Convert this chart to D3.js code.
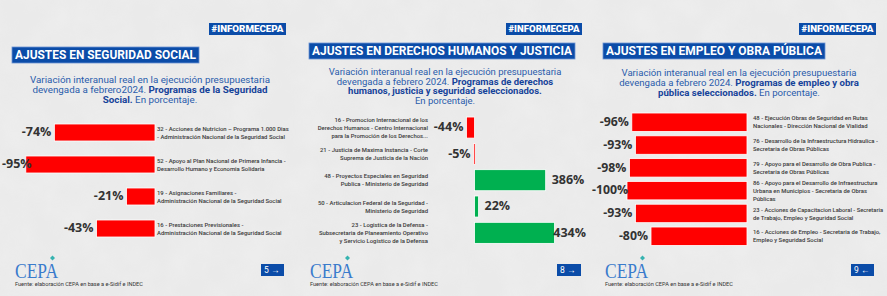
<!DOCTYPE html>
<html><head><meta charset="utf-8">
<script src="https://cdn.jsdelivr.net/npm/d3@7/dist/d3.min.js"></script>
<style>body{margin:0;background:#ececec}svg{display:block}</style>
</head><body><svg id="c" width="887" height="296"></svg>
<script>
// ---------- DATA ----------
const tagText = "#INFORMECEPA";
const sourceText = "Fuente: elaboración CEPA en base a e-Sidif e INDEC";
const titles = ["AJUSTES EN SEGURIDAD SOCIAL", "AJUSTES EN DERECHOS HUMANOS Y JUSTICIA", "AJUSTES EN EMPLEO Y OBRA PÚBLICA"];
const subtitle1 = [
  [["Variación interanual real en la ejecución presupuestaria", false]],
  [["devengada a febrero2024. ", false], ["Programas de la Seguridad", true]],
  [["Social.", true], [" En porcentaje.", false]]
];
const subtitle2 = [
  [["Variación interanual real en la ejecución presupuestaria", false]],
  [["devengada a febrero 2024. ", false], ["Programas de derechos", true]],
  [["humanos, justicia y seguridad seleccionados.", true]],
  [["En porcentaje.", false]]
];
const subtitle3 = [
  [["Variación interanual real en la ejecución presupuestaria", false]],
  [["devengada a febrero 2024. ", false], ["Programas de empleo y obra", true]],
  [["pública seleccionados.", true], [" En porcentaje.", false]]
];
const pageNumbers = ["5", "8", "9"];
const pageArrows = ["→", "→", "←"];

const categories1 = [
  ["32 - Acciones de Nutricion – Programa 1.000 Dias", "- Administración Nacional de la Seguridad Social"],
  ["52 - Apoyo al Plan Nacional de Primera Infancia -", "Desarrollo Humano y Economia Solidaria"],
  ["19 - Asignaciones Familiares -", "Administración Nacional de la Seguridad Social"],
  ["16 - Prestaciones Previsionales -", "Administración Nacional de la Seguridad Social"]
];
const values1 = [-74, -95, -21, -43];

const categories2 = [
  ["16 - Promocion Internacional de los", "Derechos Humanos - Centro Internacional", "para la Promoción de los Derechos..."],
  ["21 - Justicia de Maxima Instancia - Corte", "Suprema de Justicia de la Nación"],
  ["48 - Proyectos Especiales en Seguridad", "Publica - Ministerio de Seguridad"],
  ["50 - Articulacion Federal de la Seguridad -", "Ministerio de Seguridad"],
  ["23 - Logistica de la Defensa -", "Subsecretaria de Planeamiento Operativo", "y Servicio Logistico de la Defensa"]
];
const values2 = [-44, -5, 386, 22, 434];

const categories3 = [
  ["48 - Ejecución Obras de Seguridad en Rutas", "Nacionales - Dirección Nacional de Vialidad"],
  ["76 - Desarrollo de la Infraestructura Hidraulica -", "Secretaria de Obras Públicas"],
  ["79 - Apoyo para el Desarrollo de Obra Publica -", "Secretaria de Obras Públicas"],
  ["86 - Apoyo para el Desarrollo de Infraestructura", "Urbana en Municipios - Secretaria de Obras", "Públicas"],
  ["23 - Acciones de Capacitacion Laboral - Secretaria", "de Trabajo, Empleo y Seguridad Social"],
  ["16 - Acciones de Empleo - Secretaria de Trabajo,", "Empleo y Seguridad Social"]
];
const values3 = [-96, -93, -98, -100, -93, -80];

// ---------- STYLE ----------
const BLUE = "#0b4ca8", SUBBLUE = "#2a5cab", SUBBOLD = "#16439a";
const RED = "#ff0000", GREEN = "#00b050", DARK = "#333333", LABEL = "#3a3a3a";

const svg = d3.select("#c");
const defs = svg.append("defs");
const f = defs.append("filter").attr("id", "noise").attr("x", 0).attr("y", 0).attr("width", "100%").attr("height", "100%");
f.append("feTurbulence").attr("type", "fractalNoise").attr("baseFrequency", 0.03).attr("numOctaves", 3).attr("seed", 4);
f.append("feColorMatrix").attr("type", "matrix").attr("values", "0 0 0 0 1  0 0 0 0 1  0 0 0 0 1  0 0 0 0.5 -0.15");
svg.append("rect").attr("width", 887).attr("height", 296).attr("fill", "#eaeaea");
svg.append("rect").attr("width", 887).attr("height", 296).attr("filter", "url(#noise)").attr("opacity", 0.55);

const panels = [
  { ox: 0, w: 295, cats: categories1, vals: values1, title: titles[0], sub: subtitle1,
    tag: [209, 23, 77, 12], tbox: [12, 47, 187, 16], subX: 150, subY: [79.5, 89.5, 99.5], subFs: 9.8,
    x: d3.scaleLinear().domain([-100, 0]).range([19, 155]), yr: [116.5, 244.5], pad: 0.469,
    labelSide: "right", labelX: 157, vfs: 12.5, page: [261, 264, 23, 12] },
  { ox: 295, w: 295, cats: categories2, vals: values2, title: titles[1], sub: subtitle2,
    tag: [506, 23, 76, 12], tbox: [309, 43, 266, 16], subX: 445, subY: [71.5, 81.5, 91.3, 101], subFs: 9.5,
    x: d3.scaleLinear().domain([-100, 500]).range([456.1, 566.7]), yr: [114.4, 246], pad: 0.2,
    labelSide: "left", labelX: 428, vfs: 12.5, page: [557, 264, 24, 12], maxRight: 586 },
  { ox: 590, w: 297, cats: categories3, vals: values3, title: titles[2], sub: subtitle3,
    tag: [799, 23, 77, 12], tbox: [603, 43, 222, 16], subX: 739, subY: [73, 83, 93], subFs: 9.6,
    x: d3.scaleLinear().domain([-100, 0]).range([627, 747]), yr: [110.85, 247.65], pad: 0.19,
    labelSide: "right", labelX: 753, vfs: 12.3, page: [851, 264, 23, 12] }
];

panels.forEach((p, pi) => {
  const g = svg.append("g");
  // tag box
  g.append("rect").attr("x", p.tag[0]).attr("y", p.tag[1]).attr("width", p.tag[2]).attr("height", p.tag[3]).attr("fill", BLUE);
  g.append("text").attr("x", p.tag[0] + p.tag[2] / 2).attr("y", p.tag[1] + p.tag[3] / 2 + 0.5)
    .attr("text-anchor", "middle").attr("dominant-baseline", "middle")
    .attr("font-family", "Roboto").attr("font-weight", 900).attr("font-size", 8.6).attr("fill", "#fff")
    .attr("textLength", p.tag[2] - 5).attr("lengthAdjust", "spacingAndGlyphs").text(tagText);
  // title box
  g.append("rect").attr("x", p.tbox[0]).attr("y", p.tbox[1]).attr("width", p.tbox[2]).attr("height", p.tbox[3])
    .attr("fill", BLUE).attr("stroke", "#6d93d3").attr("stroke-width", 0.8);
  g.append("text").attr("x", p.tbox[0] + p.tbox[2] / 2).attr("y", p.tbox[1] + p.tbox[3] / 2 + 0.5)
    .attr("text-anchor", "middle").attr("dominant-baseline", "middle")
    .attr("font-family", "Roboto").attr("font-weight", 700).attr("font-size", 12).attr("fill", "#fff")
    .attr("textLength", p.tbox[2] - 6).attr("lengthAdjust", "spacingAndGlyphs").text(p.title);
  // subtitle
  p.sub.forEach((line, li) => {
    const t = g.append("text").attr("x", p.subX).attr("y", p.subY[li]).attr("text-anchor", "middle")
      .attr("dominant-baseline", "middle").attr("font-family", "Roboto").attr("font-size", p.subFs);
    line.forEach(seg => {
      t.append("tspan").attr("font-weight", seg[1] ? 700 : 400).attr("fill", seg[1] ? SUBBOLD : SUBBLUE).text(seg[0]);
    });
  });
  // bars
  const y = d3.scaleBand().domain(d3.range(p.cats.length)).range(p.yr).paddingInner(p.pad).paddingOuter(p.pad / 2);
  const x0 = p.x(0);
  g.selectAll(".bar").data(p.vals).join("rect")
    .attr("x", d => Math.min(p.x(d), x0))
    .attr("y", (d, i) => y(i))
    .attr("width", d => Math.max(1.5, Math.abs(p.x(d) - x0)))
    .attr("height", y.bandwidth())
    .attr("fill", d => d < 0 ? RED : GREEN)
    .attr("stroke", "#ffffff").attr("stroke-width", 0.8);
  // value labels
  p.vals.forEach((d, i) => {
    const cy = y(i) + y.bandwidth() / 2;
    const t = g.append("text").attr("y", cy + 0.5).attr("dominant-baseline", "middle")
      .attr("font-family", "Open Sans").attr("font-weight", 700).attr("font-size", p.vfs)
      .attr("fill", DARK).text(d + "%");
    const w = t.node().getComputedTextLength();
    if (d < 0) {
      let xe = Math.min(p.x(d), x0) - 3;
      if (xe - w < p.ox + 2) xe = p.ox + 2 + w;
      t.attr("x", xe).attr("text-anchor", "end");
    } else {
      let xs = p.x(d) + 6;
      if (p.maxRight && xs + w > p.maxRight) xs = p.maxRight - w;
      t.attr("x", xs).attr("text-anchor", "start");
    }
  });
  // category labels
  p.cats.forEach((lines, i) => {
    const cy = y(i) + y.bandwidth() / 2 + 0.5;
    const lh = 8;
    const t = g.append("text").attr("font-family", "Roboto").attr("font-weight", 500).attr("font-size", 5.9)
      .attr("fill", LABEL).attr("text-anchor", p.labelSide === "left" ? "end" : "start");
    lines.forEach((ln, k) => {
      const ts = t.append("tspan").attr("x", p.labelX).attr("y", cy - (lines.length - 1) * lh / 2 + k * lh)
        .attr("dominant-baseline", "middle").text(ln);
      if (p.labelSide === "right") {
        const lim = p.ox + p.w - 4 - p.labelX;
        const w = ts.node().getComputedTextLength();
        if (w > lim) ts.attr("textLength", lim).attr("lengthAdjust", "spacingAndGlyphs");
      }
    });
  });
  // footer: logo
  const lx = p.ox + 15;
  g.append("text").attr("x", lx).attr("y", 278).attr("font-family", "Liberation Serif")
    .attr("font-size", 21.5).attr("fill", "#3a7bcc").attr("textLength", 43).attr("lengthAdjust", "spacingAndGlyphs").text("CEPA");
  g.append("path").attr("d", `M${lx + 35},${258} l2.5,-2.5 l2.5,2.5 l-2.5,2.5 z`).attr("fill", "#36b3b0");
  g.append("text").attr("x", lx).attr("y", 285).attr("dominant-baseline", "middle").attr("font-family", "Roboto")
    .attr("font-size", 5.6).attr("fill", "#333").text(sourceText);
  // page box
  g.append("rect").attr("x", p.page[0]).attr("y", p.page[1]).attr("width", p.page[2]).attr("height", p.page[3]).attr("fill", BLUE);
  g.append("text").attr("x", p.page[0] + 3).attr("y", p.page[1] + p.page[3] / 2 + 0.5).attr("dominant-baseline", "middle")
    .attr("font-family", "Roboto").attr("font-size", 8.5).attr("fill", "#fff").text(pageNumbers[pi] + " " + pageArrows[pi]);
});
</script></body></html>
